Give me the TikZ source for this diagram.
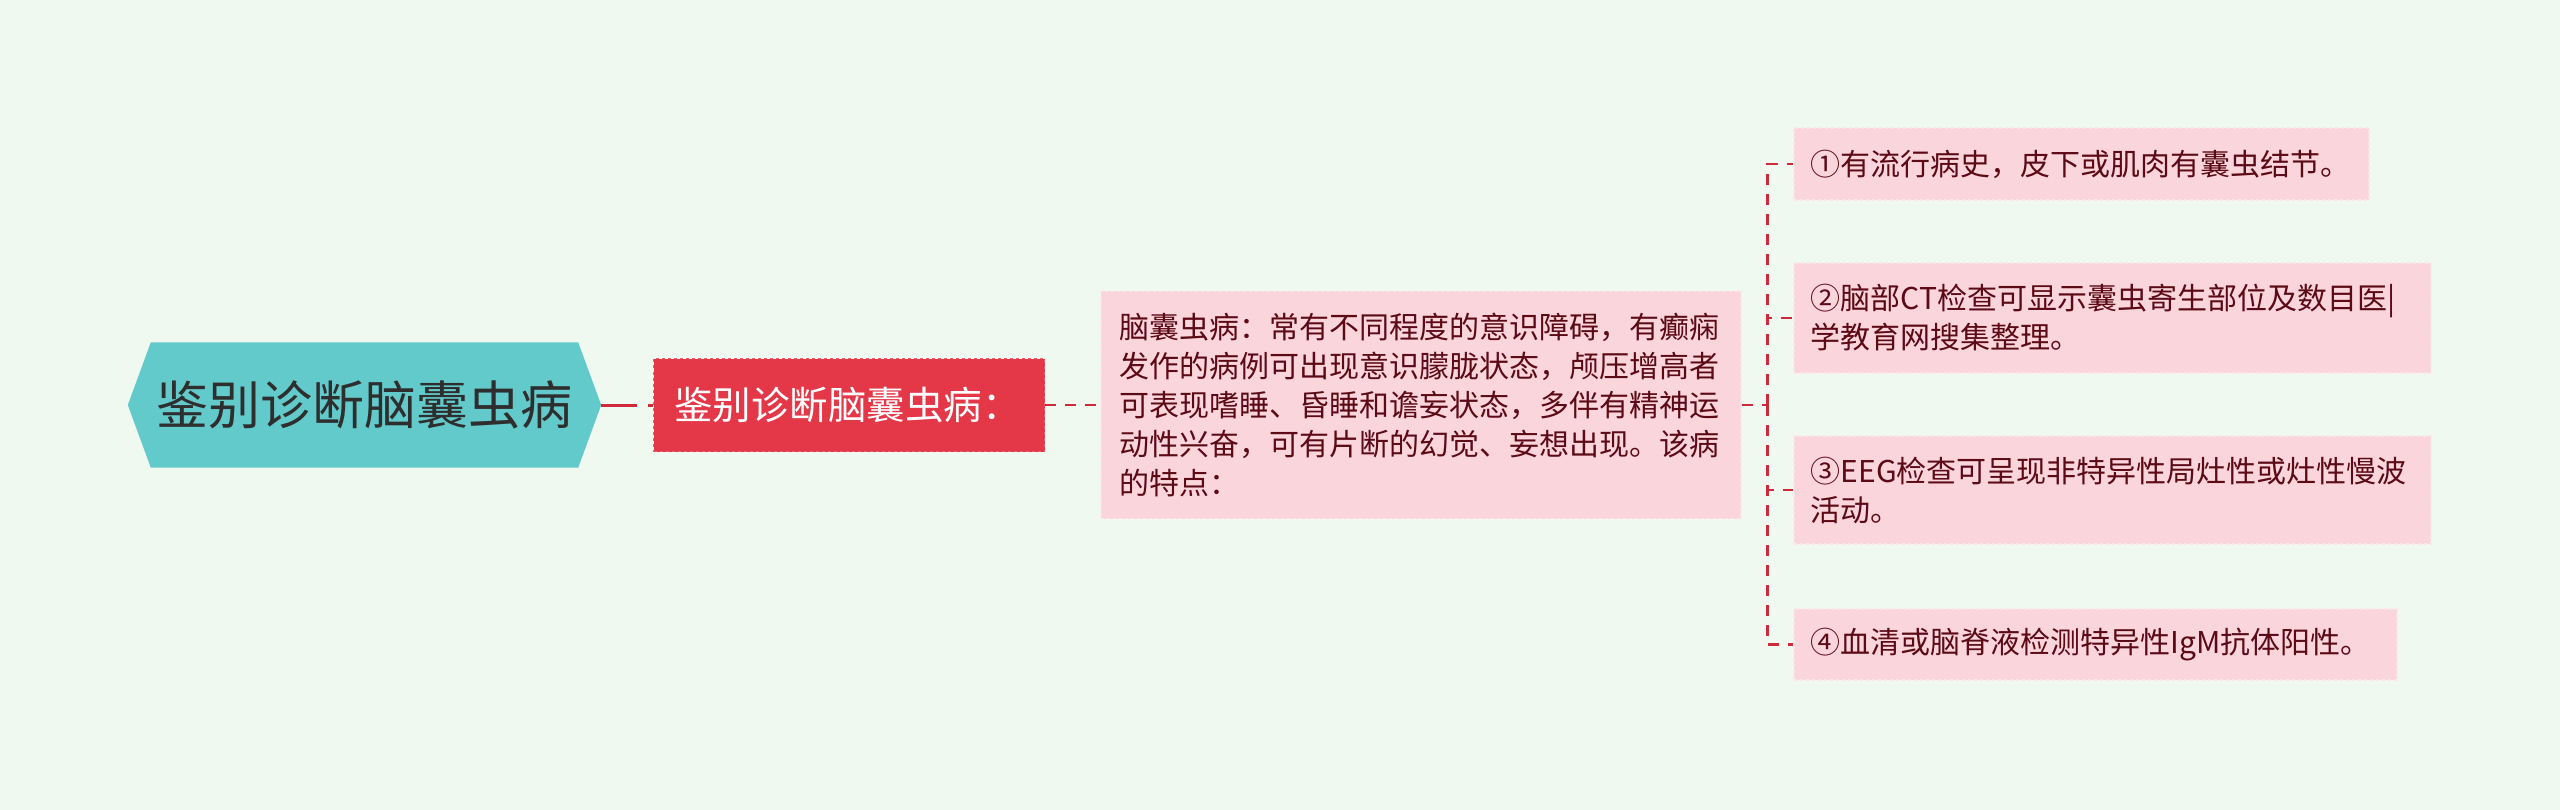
\documentclass[tikz,border=0pt]{standalone}
\usepackage{fontspec}
\setmainfont{Noto Sans CJK SC}
\usetikzlibrary{positioning,backgrounds,calc}
\definecolor{bgmint}{HTML}{F0F9EF}
\definecolor{rootteal}{HTML}{63CACB}
\definecolor{rootink}{HTML}{2E2E2E}
\definecolor{hubred}{HTML}{E43848}
\definecolor{leafpink}{HTML}{FAD5DB}
\definecolor{leafink}{HTML}{5C0A16}
\definecolor{linkred}{HTML}{CF2A3B}
\tikzset{
topic/.style={rectangle,inner sep=0pt,minimum width=427pt,minimum height=125pt,
text=rootink,font=\fontsize{52}{60}\selectfont},
branch/.style={rectangle,fill=hubred,draw=hubred!80!white,dashed,line width=1pt,
text=white,text width=350pt,inner xsep=20.5pt,minimum height=93pt,
font=\fontsize{38.5}{46}\selectfont},
leaf/.style={rectangle,fill=leafpink,draw=white!40!leafpink,dashed,line width=1.5pt,
text=leafink,align=left,inner xsep=17pt,inner ysep=0pt,
font=\fontsize{30}{39}\selectfont},
link/.style={draw=linkred,line width=2.5pt,dash pattern=on 11pt off 9pt}
}

\begin{document}
\begin{tikzpicture}[x=1pt, y=-1pt]
\useasboundingbox (0,0) rectangle (2560,810);

\node[topic] (dx) at (364.5,405) {鉴别诊断脑囊虫病};
\node[branch] (dxq) [right=75pt of dx] {鉴别诊断脑囊虫病：};
\node[leaf,text width=602pt,inner xsep=19pt,minimum height=227pt] (ncc) [right=55pt of dxq]
{脑囊虫病：常有不同程度的意识障碍，有癫痫\\发作的病例可出现意识朦胧状态，颅压增高者\\可表现嗜睡、昏睡和谵妄状态，多伴有精神运\\动性兴奋，可有片断的幻觉、妄想出现。该病\\的特点：};
\coordinate (hub) at ($(ncc.east)+(26,0)$);

\node[leaf,text width=541pt,minimum height=72pt,anchor=west] (f1) at (1793,164) {①有流行病史，皮下或肌肉有囊虫结节。};
\node[leaf,text width=603pt,minimum height=110pt,anchor=west] (f2) at (1793,318) {②脑部CT检查可显示囊虫寄生部位及数目医|\\学教育网搜集整理。};
\node[leaf,text width=603pt,minimum height=108pt,anchor=west] (f3) at (1793,490) {③EEG检查可呈现非特异性局灶性或灶性慢波\\活动。};
\node[leaf,text width=569pt,minimum height=71pt,anchor=west] (f4) at (1793,644.5) {④血清或脑脊液检测特异性IgM抗体阳性。};

\begin{pgfonlayer}{background}
\fill[bgmint] (0,0) rectangle (2560,810);
\fill[rootteal] (dx.north west) -- (dx.north east) -- ($(dx.east)+(23,0)$)
  -- (dx.south east) -- (dx.south west) -- ($(dx.west)+(-23,0)$) -- cycle;
\end{pgfonlayer}

\draw[link,line width=3pt,dash pattern=on 36pt off 11pt] ($(dx.east)+(23,0)$) -- (dxq);
\draw[link] (dxq) -- (ncc);
\draw[link] (ncc) -- (hub);
\foreach \f in {f1,f2,f3,f4}
  \draw[link] (hub) |- (\f.west);

\end{tikzpicture}
\end{document}
